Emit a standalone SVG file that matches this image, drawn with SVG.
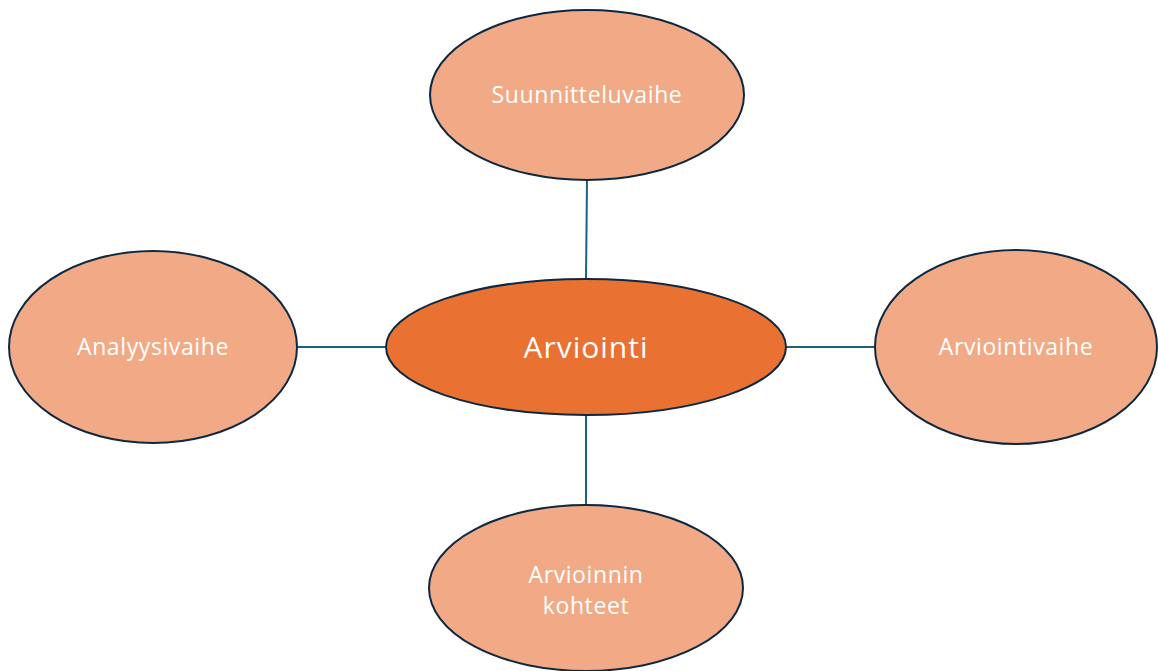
<svg xmlns="http://www.w3.org/2000/svg" width="1158" height="671" viewBox="0 0 1158 671">
<style>
.node{fill:#F1AA85;stroke:#0E2841;stroke-width:2}
.main{fill:#E97132;stroke:#0E2841;stroke-width:2}
.lbl{font-family:"Open Sans","Liberation Sans",sans-serif;font-size:23px;letter-spacing:0.6px;fill:#FFFFFF;text-anchor:middle}
.big{font-size:30px;letter-spacing:1px}
.conn{stroke:#1F5F80;stroke-width:2;fill:none}
</style>
<rect width="1158" height="671" fill="#FFFFFF"/>
<g id="connectors">
<line class="conn" x1="587" y1="180" x2="586" y2="279"/>
<line class="conn" x1="586" y1="415" x2="586" y2="505"/>
<line class="conn" x1="297" y1="347" x2="386" y2="347"/>
<line class="conn" x1="786" y1="347" x2="875" y2="347"/>
</g>
<g id="node-suunnitteluvaihe">
<ellipse class="node" cx="587" cy="95" rx="157" ry="85"/>
<text class="lbl" x="587" y="103">Suunnitteluvaihe</text>
</g>
<g id="node-analyysivaihe">
<ellipse class="node" cx="153" cy="347" rx="144" ry="96"/>
<text class="lbl" x="153" y="355">Analyysivaihe</text>
</g>
<g id="node-arviointivaihe">
<ellipse class="node" cx="1016" cy="347" rx="141" ry="97"/>
<text class="lbl" x="1016" y="355">Arviointivaihe</text>
</g>
<g id="node-arvioinnin-kohteet">
<ellipse class="node" cx="586" cy="588" rx="157" ry="83"/>
<text class="lbl" x="586" y="583">Arvioinnin</text>
<text class="lbl" x="586" y="614">kohteet</text>
</g>
<g id="node-arviointi">
<ellipse class="main" cx="586" cy="347" rx="200" ry="68"/>
<text class="lbl big" x="586" y="358">Arviointi</text>
</g>
</svg>
